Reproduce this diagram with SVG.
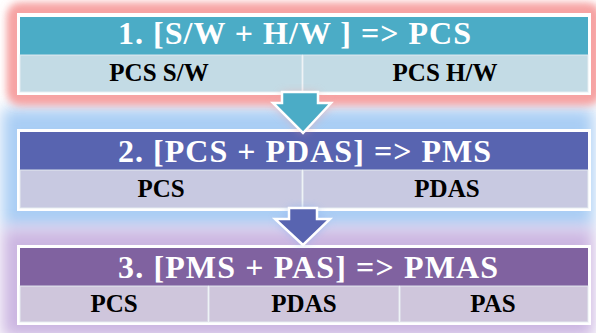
<svg xmlns="http://www.w3.org/2000/svg" width="596" height="333" viewBox="0 0 596 333">
<defs>
<filter id="glow" x="-20%" y="-40%" width="140%" height="180%"><feGaussianBlur stdDeviation="5"/></filter>
<filter id="glow2" x="-20%" y="-40%" width="140%" height="180%"><feGaussianBlur stdDeviation="8"/></filter>
<style>
.frame{fill:#ffffff;}
.title{font-family:"Liberation Serif","Times New Roman",serif;font-weight:bold;font-size:32px;fill:#ffffff;}
.sub{font-family:"Liberation Serif","Times New Roman",serif;font-weight:bold;font-size:25px;fill:#000000;text-anchor:middle;}
.cell{stroke:#e8eef2;stroke-width:1.5;stroke-opacity:0.6;}
.arrow{stroke:#ffffff;stroke-width:2.5;stroke-linejoin:miter;}
</style>
</defs>
<rect width="596" height="333" fill="#ffffff"/>
<g id="glows">
<rect x="2" y="108" width="592" height="120" fill="#a9cdf4" filter="url(#glow2)"/>
<rect x="2" y="228" width="592" height="110" fill="#cbb5e1" filter="url(#glow2)"/>
<rect x="9" y="5" width="590" height="98" rx="10" fill="#f6a3a3" filter="url(#glow)"/>
<rect x="9" y="5" width="590" height="98" rx="10" fill="#f6a3a3" filter="url(#glow)"/>
</g>
<g id="box1">
<rect class="frame" x="17" y="13" width="574" height="82"/>
<rect x="20" y="17" width="568" height="38" fill="#4bacc6"/>
<rect class="cell" x="20" y="55" width="282" height="37" fill="#c3dbe5"/>
<rect class="cell" x="303" y="55" width="285" height="37" fill="#c3dbe5"/>
<text class="title" x="118" y="44" textLength="353" lengthAdjust="spacing">1. [S/W + H/W ] =&gt; PCS</text>
<text class="sub" x="159" y="81">PCS S/W</text>
<text class="sub" x="445" y="81">PCS H/W</text>
</g>
<g id="box2">
<rect class="frame" x="17" y="129" width="574" height="82"/>
<rect x="20" y="132" width="568" height="38" fill="#5864b0"/>
<rect class="cell" x="20" y="170" width="282" height="38" fill="#c8c9e1"/>
<rect class="cell" x="303" y="170" width="285" height="38" fill="#c8c9e1"/>
<text class="title" x="118" y="162" textLength="373" lengthAdjust="spacing">2. [PCS + PDAS] =&gt; PMS</text>
<text class="sub" x="161" y="197">PCS</text>
<text class="sub" x="447" y="197">PDAS</text>
</g>
<g id="box3">
<rect class="frame" x="17" y="245" width="574" height="80"/>
<rect x="20" y="248" width="568" height="38" fill="#8062a0"/>
<rect class="cell" x="20" y="286" width="188" height="36" fill="#cfc6dc"/>
<rect class="cell" x="209" y="286" width="190" height="36" fill="#cfc6dc"/>
<rect class="cell" x="400" y="286" width="188" height="36" fill="#cfc6dc"/>
<text class="title" x="118" y="278" textLength="380" lengthAdjust="spacing">3. [PMS + PAS] =&gt; PMAS</text>
<text class="sub" x="114" y="312">PCS</text>
<text class="sub" x="304" y="312">PDAS</text>
<text class="sub" x="493" y="312">PAS</text>
</g>
<g id="connectors">
<polygon points="282,93 282,103 272,103 303,133 333,103 318,103 318,93" fill="#f2a0a0" opacity="0.6" filter="url(#glow)"/>
<polygon class="arrow" points="282,92 282,103 273,103 303,133 331,103 318,103 318,92" fill="#4bacc6"/>
<polygon points="289,208 289,219 275,219 303,245 330,219 317,219 317,208" fill="#8fb4ef" opacity="0.8" filter="url(#glow)"/>
<polygon class="arrow" points="289,208 289,219 275,219 303,245 330,219 317,219 317,208" fill="#5864b0"/>
</g>
</svg>
